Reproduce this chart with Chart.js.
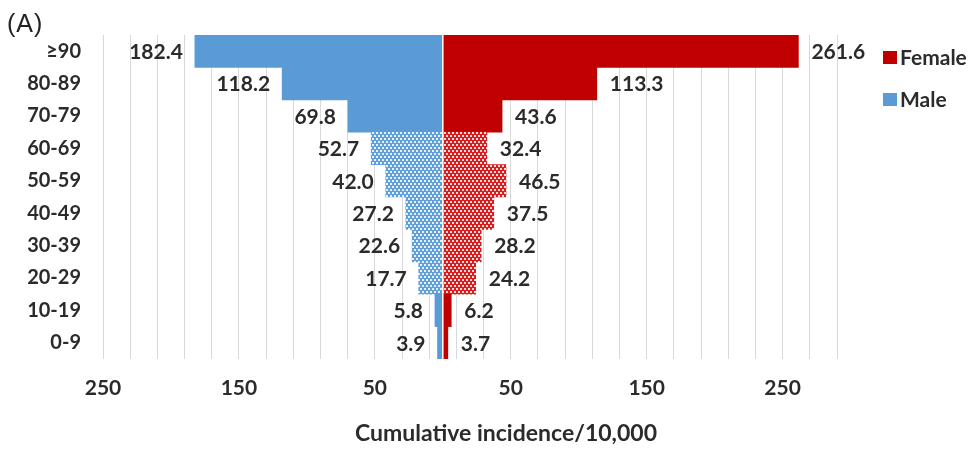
<!DOCTYPE html>
<html>
<head>
<meta charset="utf-8">
<script src="https://cdn.jsdelivr.net/npm/chart.js@4.4.0/dist/chart.umd.min.js"></script>
<style>
  html, body { margin: 0; padding: 0; background: #fff; }
  #wrap { width: 974px; height: 449px; position: relative; }
</style>
</head>
<body>
<div id="wrap"><canvas id="myChart"></canvas></div>
<script>
// cumulative incidence per 10,000 by age group
const ageGroups = ['≥90', '80-89', '70-79', '60-69', '50-59', '40-49', '30-39', '20-29', '10-19', '0-9'];
const femaleRates = [261.6, 113.3, 43.6, 32.4, 46.5, 37.5, 28.2, 24.2, 6.2, 3.7];
const maleRates = [182.4, 118.2, 69.8, 52.7, 42.0, 27.2, 22.6, 17.7, 5.8, 3.9];
// age groups drawn with the dotted fill
const dottedGroups = ['60-69', '50-59', '40-49', '30-39', '20-29'];

// x axis: gridlines every 20, labels every 100 (male side shown as positive)
const gridValues = [-250, -230, -210, -190, -170, -150, -130, -110, -90, -70, -50, -30, -10,
  10, 30, 50, 70, 90, 110, 130, 150, 170, 190, 210, 230, 250, 270, 290];
const labelledTicks = [-250, -150, -50, 50, 150, 250];

const textColor = '#2b2b2b';
const fontFamily = 'Lato';

function dots(base) {
  const c = document.createElement('canvas');
  c.width = 4; c.height = 6;
  const g = c.getContext('2d');
  g.fillStyle = base;
  g.fillRect(0, 0, 4, 6);
  g.fillStyle = 'rgba(255,255,255,0.85)';
  g.fillRect(0, 0, 2, 2);
  g.fillRect(2, 3, 2, 2);
  return g.createPattern(c, 'repeat');
}

function fills(solid, dotted) {
  const p = dots(dotted);
  return ageGroups.map(a => dottedGroups.includes(a) ? p : solid);
}

const femaleColor = '#c00000';
const maleColor = '#5b9bd5';

// value labels just outside each bar end
const valueLabels = {
  id: 'valueLabels',
  afterDatasetsDraw(chart) {
    const ctx = chart.ctx;
    ctx.save();
    ctx.font = 'bold 21px ' + fontFamily;
    ctx.fillStyle = textColor;
    ctx.textBaseline = 'middle';
    chart.data.datasets.forEach((ds, i) => {
      const isMale = ds.label === 'Male';
      const rates = isMale ? maleRates : femaleRates;
      chart.getDatasetMeta(i).data.forEach((bar, j) => {
        ctx.textAlign = isMale ? 'right' : 'left';
        ctx.fillText(rates[j].toFixed(1), bar.x + (isMale ? -12 : 13), bar.y + 1);
      });
    });
    // thin white divider at zero
    const x0 = chart.scales.x.getPixelForValue(0);
    ctx.strokeStyle = '#ffffff';
    ctx.lineWidth = 1.5;
    ctx.beginPath();
    ctx.moveTo(x0, chart.chartArea.top);
    ctx.lineTo(x0, chart.chartArea.bottom);
    ctx.stroke();
    ctx.restore();
  }
};

// panel tag, axis title and legend
const extras = {
  id: 'extras',
  afterDraw(chart) {
    const ctx = chart.ctx;
    ctx.save();
    ctx.fillStyle = '#222';
    ctx.font = '25px "Liberation Sans"';
    ctx.letterSpacing = '1px';
    ctx.textBaseline = 'middle';
    ctx.textAlign = 'left';
    ctx.fillText('(A)', 7, 25);
    ctx.letterSpacing = '0px';

    ctx.fillStyle = textColor;
    ctx.font = 'bold 23px ' + fontFamily;
    ctx.textAlign = 'center';
    ctx.fillText('Cumulative incidence/10,000', 506, 434);

    ctx.font = 'bold 21px ' + fontFamily;
    ctx.textAlign = 'left';
    chart.data.datasets.forEach((ds, i) => {
      const y = 57 + i * 42;
      ctx.fillStyle = ds.legendColor;
      ctx.fillRect(883, y - 6, 14, 13);
      ctx.fillStyle = textColor;
      ctx.fillText(ds.label, 900, y + 1);
    });
    ctx.restore();
  }
};

new Chart(document.getElementById('myChart'), {
  type: 'bar',
  data: {
    labels: ageGroups,
    datasets: [
      {
        label: 'Female',
        data: femaleRates,
        backgroundColor: fills(femaleColor, '#dc1c1c'),
        legendColor: femaleColor,
        categoryPercentage: 1,
        barPercentage: 1
      },
      {
        label: 'Male',
        data: maleRates.map(v => -v),
        backgroundColor: fills(maleColor, '#5fa0dc'),
        legendColor: maleColor,
        categoryPercentage: 1,
        barPercentage: 1
      }
    ]
  },
  options: {
    indexAxis: 'y',
    responsive: true,
    maintainAspectRatio: false,
    animation: false,
    layout: { padding: { top: 35, right: 137, left: 0, bottom: 0 } },
    plugins: {
      legend: { display: false },
      tooltip: { enabled: false }
    },
    scales: {
      x: {
        stacked: true,
        min: -250,
        max: 290,
        afterBuildTicks: s => { s.ticks = gridValues.map(v => ({ value: v })); },
        afterFit: s => { s.height = 90; },
        ticks: {
          autoSkip: false,
          maxRotation: 0,
          padding: 17,
          color: textColor,
          font: { family: fontFamily, size: 21, weight: 'bold' },
          callback: v => labelledTicks.includes(v) ? String(Math.abs(v)) : ''
        },
        grid: { color: '#d9d9d9', drawTicks: false },
        border: { display: false }
      },
      y: {
        stacked: true,
        afterFit: s => { s.width = 103; },
        ticks: {
          padding: 22,
          color: textColor,
          font: { family: fontFamily, size: 20, weight: 'bold' }
        },
        grid: { display: false, drawTicks: false },
        border: { display: false }
      }
    }
  },
  plugins: [valueLabels, extras]
});
</script>
</body>
</html>
